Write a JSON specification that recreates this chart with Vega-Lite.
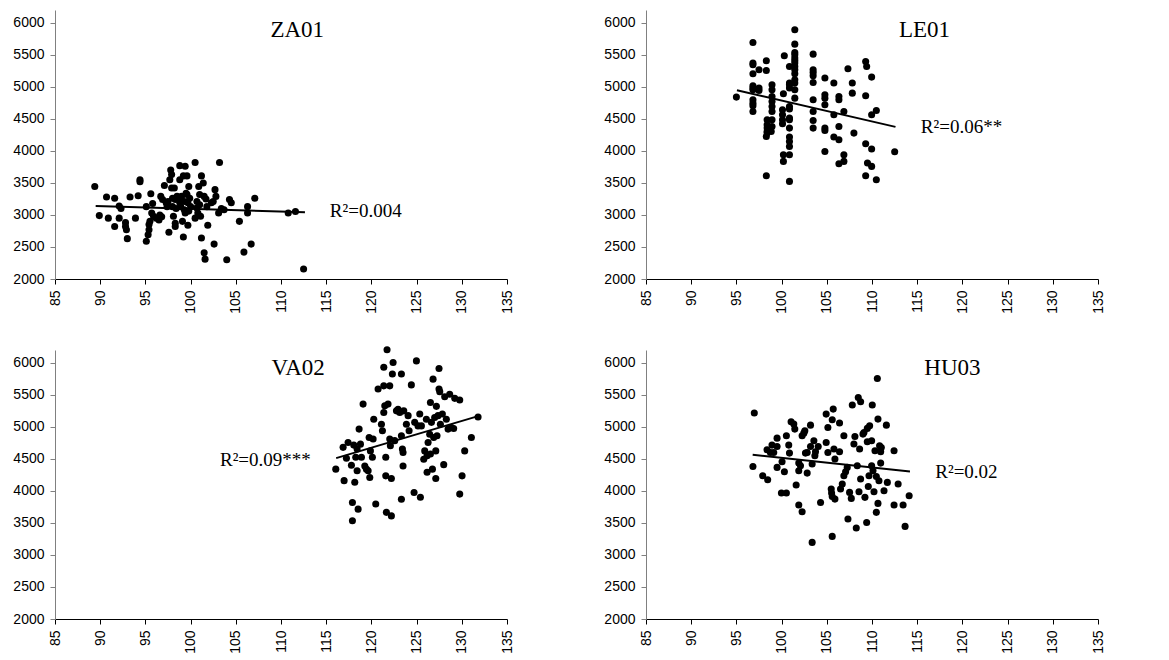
{
  "$schema": "https://vega.github.io/schema/vega-lite/v6.json",
  "background": "white",
  "padding": {"left": 12, "top": 10, "right": 5, "bottom": 5},
  "bounds": "flush",
  "columns": 2,
  "spacing": {"row": 71, "column": 139},
  "datasets": {"all": [
    {"site":"ZA01","kind":"title","x":111.8,"y":5890,"label":"ZA01"},
    {"site":"LE01","kind":"title","x":115.8,"y":5890,"label":"LE01"},
    {"site":"VA02","kind":"title","x":111.9,"y":5913,"label":"VA02"},
    {"site":"HU03","kind":"title","x":118.9,"y":5913,"label":"HU03"},
    {"site":"ZA01","kind":"r2","x":115.4,"y":2964,"label":"R²=0.004"},
    {"site":"LE01","kind":"r2","x":115.4,"y":4277,"label":"R²=0.06**"},
    {"site":"VA02","kind":"r2","x":103.25,"y":4392,"label":"R²=0.09***"},
    {"site":"HU03","kind":"r2","x":117.0,"y":4195,"label":"R²=0.02"},
    {"site":"ZA01","kind":"fit","x":89.5,"y":3141},
    {"site":"ZA01","kind":"fit","x":112.65,"y":3042},
    {"site":"LE01","kind":"fit","x":95.06,"y":4948},
    {"site":"LE01","kind":"fit","x":112.6,"y":4375},
    {"site":"VA02","kind":"fit","x":116.1,"y":4512},
    {"site":"VA02","kind":"fit","x":131.9,"y":5172},
    {"site":"HU03","kind":"fit","x":96.8,"y":4563},
    {"site":"HU03","kind":"fit","x":114.2,"y":4304},

    {"site":"ZA01","kind":"pt","x":89.4,"y":3445},{"site":"ZA01","kind":"pt","x":89.9,"y":2990},{"site":"ZA01","kind":"pt","x":90.7,"y":3280},{"site":"ZA01","kind":"pt","x":90.9,"y":2950},
    {"site":"ZA01","kind":"pt","x":91.6,"y":3260},{"site":"ZA01","kind":"pt","x":91.6,"y":2820},{"site":"ZA01","kind":"pt","x":92.1,"y":3140},{"site":"ZA01","kind":"pt","x":92.1,"y":2950},
    {"site":"ZA01","kind":"pt","x":92.3,"y":3100},{"site":"ZA01","kind":"pt","x":92.8,"y":2880},{"site":"ZA01","kind":"pt","x":92.8,"y":2820},{"site":"ZA01","kind":"pt","x":92.9,"y":2770},
    {"site":"ZA01","kind":"pt","x":93.0,"y":2630},{"site":"ZA01","kind":"pt","x":93.3,"y":3280},{"site":"ZA01","kind":"pt","x":93.9,"y":2950},{"site":"ZA01","kind":"pt","x":94.2,"y":3300},
    {"site":"ZA01","kind":"pt","x":94.4,"y":3550},{"site":"ZA01","kind":"pt","x":94.4,"y":3520},{"site":"ZA01","kind":"pt","x":95.1,"y":3130},{"site":"ZA01","kind":"pt","x":95.1,"y":2590},
    {"site":"ZA01","kind":"pt","x":95.3,"y":2690},{"site":"ZA01","kind":"pt","x":95.4,"y":2770},{"site":"ZA01","kind":"pt","x":95.4,"y":2850},{"site":"ZA01","kind":"pt","x":95.5,"y":2900},
    {"site":"ZA01","kind":"pt","x":95.6,"y":3330},{"site":"ZA01","kind":"pt","x":95.7,"y":3030},{"site":"ZA01","kind":"pt","x":95.8,"y":3180},{"site":"ZA01","kind":"pt","x":95.9,"y":2980},
    {"site":"ZA01","kind":"pt","x":96.2,"y":2950},{"site":"ZA01","kind":"pt","x":96.5,"y":2920},{"site":"ZA01","kind":"pt","x":96.6,"y":3000},{"site":"ZA01","kind":"pt","x":96.7,"y":3290},
    {"site":"ZA01","kind":"pt","x":96.8,"y":2970},{"site":"ZA01","kind":"pt","x":96.9,"y":3240},{"site":"ZA01","kind":"pt","x":97.1,"y":3460},{"site":"ZA01","kind":"pt","x":97.3,"y":3190},
    {"site":"ZA01","kind":"pt","x":97.4,"y":3130},{"site":"ZA01","kind":"pt","x":97.5,"y":3210},{"site":"ZA01","kind":"pt","x":97.6,"y":2730},{"site":"ZA01","kind":"pt","x":97.7,"y":3550},
    {"site":"ZA01","kind":"pt","x":97.8,"y":3700},{"site":"ZA01","kind":"pt","x":97.9,"y":3630},{"site":"ZA01","kind":"pt","x":97.9,"y":3420},{"site":"ZA01","kind":"pt","x":98.0,"y":3260},
    {"site":"ZA01","kind":"pt","x":98.0,"y":3130},{"site":"ZA01","kind":"pt","x":98.1,"y":2980},{"site":"ZA01","kind":"pt","x":98.2,"y":3420},{"site":"ZA01","kind":"pt","x":98.3,"y":2820},
    {"site":"ZA01","kind":"pt","x":98.3,"y":2870},{"site":"ZA01","kind":"pt","x":98.4,"y":3100},{"site":"ZA01","kind":"pt","x":98.5,"y":3290},{"site":"ZA01","kind":"pt","x":98.7,"y":3240},
    {"site":"ZA01","kind":"pt","x":98.8,"y":3770},{"site":"ZA01","kind":"pt","x":98.8,"y":3550},{"site":"ZA01","kind":"pt","x":98.9,"y":3130},{"site":"ZA01","kind":"pt","x":99.0,"y":3290},
    {"site":"ZA01","kind":"pt","x":99.1,"y":2900},{"site":"ZA01","kind":"pt","x":99.2,"y":2655},{"site":"ZA01","kind":"pt","x":99.2,"y":3610},{"site":"ZA01","kind":"pt","x":99.3,"y":3210},
    {"site":"ZA01","kind":"pt","x":99.4,"y":3760},{"site":"ZA01","kind":"pt","x":99.4,"y":3030},{"site":"ZA01","kind":"pt","x":99.5,"y":3340},{"site":"ZA01","kind":"pt","x":99.6,"y":3610},
    {"site":"ZA01","kind":"pt","x":99.6,"y":3320},{"site":"ZA01","kind":"pt","x":99.7,"y":2840},{"site":"ZA01","kind":"pt","x":99.7,"y":3190},{"site":"ZA01","kind":"pt","x":99.8,"y":3445},
    {"site":"ZA01","kind":"pt","x":99.9,"y":3260},{"site":"ZA01","kind":"pt","x":100.0,"y":3130},{"site":"ZA01","kind":"pt","x":100.5,"y":3820},{"site":"ZA01","kind":"pt","x":100.5,"y":2950},
    {"site":"ZA01","kind":"pt","x":100.7,"y":3210},{"site":"ZA01","kind":"pt","x":100.8,"y":3030},{"site":"ZA01","kind":"pt","x":100.9,"y":3445},{"site":"ZA01","kind":"pt","x":101.0,"y":3320},
    {"site":"ZA01","kind":"pt","x":101.1,"y":2980},{"site":"ZA01","kind":"pt","x":101.2,"y":3610},{"site":"ZA01","kind":"pt","x":101.2,"y":2640},{"site":"ZA01","kind":"pt","x":101.4,"y":3500},
    {"site":"ZA01","kind":"pt","x":101.5,"y":3290},{"site":"ZA01","kind":"pt","x":101.5,"y":2410},{"site":"ZA01","kind":"pt","x":101.6,"y":2310},{"site":"ZA01","kind":"pt","x":101.7,"y":3250},
    {"site":"ZA01","kind":"pt","x":101.8,"y":3130},{"site":"ZA01","kind":"pt","x":101.9,"y":2840},{"site":"ZA01","kind":"pt","x":102.3,"y":3190},{"site":"ZA01","kind":"pt","x":102.5,"y":3210},
    {"site":"ZA01","kind":"pt","x":102.6,"y":2545},{"site":"ZA01","kind":"pt","x":102.7,"y":3395},{"site":"ZA01","kind":"pt","x":102.8,"y":3290},{"site":"ZA01","kind":"pt","x":103.1,"y":3030},
    {"site":"ZA01","kind":"pt","x":103.2,"y":3820},{"site":"ZA01","kind":"pt","x":103.4,"y":3100},{"site":"ZA01","kind":"pt","x":103.7,"y":3080},{"site":"ZA01","kind":"pt","x":104.0,"y":2300},
    {"site":"ZA01","kind":"pt","x":104.3,"y":3240},{"site":"ZA01","kind":"pt","x":104.5,"y":3190},{"site":"ZA01","kind":"pt","x":105.4,"y":2900},{"site":"ZA01","kind":"pt","x":106.3,"y":3130},
    {"site":"ZA01","kind":"pt","x":106.3,"y":3030},{"site":"ZA01","kind":"pt","x":105.9,"y":2420},{"site":"ZA01","kind":"pt","x":106.7,"y":2545},{"site":"ZA01","kind":"pt","x":107.1,"y":3260},
    {"site":"ZA01","kind":"pt","x":110.8,"y":3030},{"site":"ZA01","kind":"pt","x":111.6,"y":3055},{"site":"ZA01","kind":"pt","x":112.5,"y":2155},{"site":"ZA01","kind":"pt","x":98.3,"y":3240},
    {"site":"ZA01","kind":"pt","x":99.3,"y":3080},{"site":"ZA01","kind":"pt","x":100.7,"y":3110},{"site":"ZA01","kind":"pt","x":99.8,"y":3060},{"site":"ZA01","kind":"pt","x":98.8,"y":3190},
    {"site":"ZA01","kind":"pt","x":101.0,"y":3160},

    {"site":"LE01","kind":"pt","x":95.0,"y":4840},
    {"site":"LE01","kind":"pt","x":96.83,"y":5693},{"site":"LE01","kind":"pt","x":96.83,"y":5371},{"site":"LE01","kind":"pt","x":96.83,"y":5345},{"site":"LE01","kind":"pt","x":96.83,"y":5204},
    {"site":"LE01","kind":"pt","x":96.83,"y":5017},{"site":"LE01","kind":"pt","x":96.83,"y":4981},{"site":"LE01","kind":"pt","x":96.83,"y":4955},{"site":"LE01","kind":"pt","x":96.83,"y":4798},
    {"site":"LE01","kind":"pt","x":96.83,"y":4746},{"site":"LE01","kind":"pt","x":96.83,"y":4705},{"site":"LE01","kind":"pt","x":96.83,"y":4616},
    {"site":"LE01","kind":"pt","x":97.5,"y":4981},{"site":"LE01","kind":"pt","x":97.5,"y":5267},{"site":"LE01","kind":"pt","x":97.5,"y":4944},
    {"site":"LE01","kind":"pt","x":98.31,"y":5407},{"site":"LE01","kind":"pt","x":98.31,"y":5256},{"site":"LE01","kind":"pt","x":98.31,"y":4226},{"site":"LE01","kind":"pt","x":98.31,"y":3612},
    {"site":"LE01","kind":"pt","x":98.4,"y":4486},{"site":"LE01","kind":"pt","x":98.4,"y":4408},{"site":"LE01","kind":"pt","x":98.4,"y":4356},{"site":"LE01","kind":"pt","x":98.4,"y":4304},{"site":"LE01","kind":"pt","x":98.4,"y":4278},
    {"site":"LE01","kind":"pt","x":98.94,"y":5033},{"site":"LE01","kind":"pt","x":98.94,"y":4955},{"site":"LE01","kind":"pt","x":98.94,"y":4850},{"site":"LE01","kind":"pt","x":98.94,"y":4772},
    {"site":"LE01","kind":"pt","x":98.94,"y":4694},{"site":"LE01","kind":"pt","x":98.94,"y":4616},{"site":"LE01","kind":"pt","x":98.94,"y":4486},{"site":"LE01","kind":"pt","x":98.94,"y":4382},
    {"site":"LE01","kind":"pt","x":98.85,"y":4304},
    {"site":"LE01","kind":"pt","x":100.3,"y":5485},{"site":"LE01","kind":"pt","x":100.2,"y":4892},
    {"site":"LE01","kind":"pt","x":100.1,"y":4642},{"site":"LE01","kind":"pt","x":100.1,"y":4564},{"site":"LE01","kind":"pt","x":100.1,"y":4486},{"site":"LE01","kind":"pt","x":100.1,"y":4424},
    {"site":"LE01","kind":"pt","x":100.2,"y":3940},{"site":"LE01","kind":"pt","x":100.2,"y":3836},
    {"site":"LE01","kind":"pt","x":100.87,"y":5319},{"site":"LE01","kind":"pt","x":100.87,"y":5059},{"site":"LE01","kind":"pt","x":100.87,"y":5033},{"site":"LE01","kind":"pt","x":100.87,"y":4981},
    {"site":"LE01","kind":"pt","x":100.87,"y":4694},{"site":"LE01","kind":"pt","x":100.87,"y":4653},{"site":"LE01","kind":"pt","x":100.87,"y":4512},{"site":"LE01","kind":"pt","x":100.87,"y":4486},
    {"site":"LE01","kind":"pt","x":100.87,"y":4356},{"site":"LE01","kind":"pt","x":100.87,"y":4216},{"site":"LE01","kind":"pt","x":100.87,"y":4148},{"site":"LE01","kind":"pt","x":100.87,"y":4070},
    {"site":"LE01","kind":"pt","x":100.87,"y":3940},{"site":"LE01","kind":"pt","x":100.87,"y":3524},
    {"site":"LE01","kind":"pt","x":101.46,"y":5891},{"site":"LE01","kind":"pt","x":101.46,"y":5667},{"site":"LE01","kind":"pt","x":101.46,"y":5537},{"site":"LE01","kind":"pt","x":101.46,"y":5501},
    {"site":"LE01","kind":"pt","x":101.46,"y":5449},{"site":"LE01","kind":"pt","x":101.46,"y":5412},{"site":"LE01","kind":"pt","x":101.46,"y":5371},{"site":"LE01","kind":"pt","x":101.46,"y":5319},
    {"site":"LE01","kind":"pt","x":101.46,"y":5267},{"site":"LE01","kind":"pt","x":101.46,"y":5204},{"site":"LE01","kind":"pt","x":101.46,"y":5111},{"site":"LE01","kind":"pt","x":101.46,"y":5059},
    {"site":"LE01","kind":"pt","x":101.46,"y":4955},{"site":"LE01","kind":"pt","x":101.46,"y":4824},
    {"site":"LE01","kind":"pt","x":103.49,"y":5511},{"site":"LE01","kind":"pt","x":103.49,"y":5267},{"site":"LE01","kind":"pt","x":103.49,"y":5225},{"site":"LE01","kind":"pt","x":103.49,"y":5173},
    {"site":"LE01","kind":"pt","x":103.49,"y":5069},{"site":"LE01","kind":"pt","x":103.49,"y":4798},{"site":"LE01","kind":"pt","x":103.49,"y":4616},{"site":"LE01","kind":"pt","x":103.49,"y":4476},
    {"site":"LE01","kind":"pt","x":103.49,"y":4356},
    {"site":"LE01","kind":"pt","x":104.79,"y":5137},{"site":"LE01","kind":"pt","x":104.79,"y":4876},{"site":"LE01","kind":"pt","x":104.79,"y":4824},{"site":"LE01","kind":"pt","x":104.79,"y":4720},
    {"site":"LE01","kind":"pt","x":104.79,"y":4356},{"site":"LE01","kind":"pt","x":104.79,"y":4320},{"site":"LE01","kind":"pt","x":104.79,"y":3992},
    {"site":"LE01","kind":"pt","x":105.78,"y":5059},{"site":"LE01","kind":"pt","x":105.78,"y":4564},{"site":"LE01","kind":"pt","x":105.78,"y":4216},
    {"site":"LE01","kind":"pt","x":106.34,"y":4850},{"site":"LE01","kind":"pt","x":106.34,"y":4798},{"site":"LE01","kind":"pt","x":106.34,"y":4382},{"site":"LE01","kind":"pt","x":106.34,"y":4174},{"site":"LE01","kind":"pt","x":106.34,"y":3800},
    {"site":"LE01","kind":"pt","x":106.89,"y":4616},{"site":"LE01","kind":"pt","x":106.89,"y":3940},{"site":"LE01","kind":"pt","x":106.89,"y":3836},
    {"site":"LE01","kind":"pt","x":107.34,"y":5282},{"site":"LE01","kind":"pt","x":107.82,"y":5059},{"site":"LE01","kind":"pt","x":107.82,"y":4902},{"site":"LE01","kind":"pt","x":108.0,"y":4278},
    {"site":"LE01","kind":"pt","x":109.3,"y":5397},{"site":"LE01","kind":"pt","x":109.3,"y":4861},{"site":"LE01","kind":"pt","x":109.3,"y":4112},{"site":"LE01","kind":"pt","x":109.3,"y":3612},
    {"site":"LE01","kind":"pt","x":109.41,"y":5319},{"site":"LE01","kind":"pt","x":109.5,"y":3810},
    {"site":"LE01","kind":"pt","x":109.96,"y":5152},{"site":"LE01","kind":"pt","x":109.96,"y":4564},{"site":"LE01","kind":"pt","x":109.96,"y":4029},{"site":"LE01","kind":"pt","x":109.96,"y":3758},
    {"site":"LE01","kind":"pt","x":110.48,"y":4632},{"site":"LE01","kind":"pt","x":110.48,"y":3550},{"site":"LE01","kind":"pt","x":112.51,"y":3987},

    {"site":"VA02","kind":"pt","x":116.06,"y":4340},{"site":"VA02","kind":"pt","x":116.87,"y":4680},{"site":"VA02","kind":"pt","x":116.98,"y":4160},{"site":"VA02","kind":"pt","x":117.24,"y":4510},
    {"site":"VA02","kind":"pt","x":117.42,"y":4755},{"site":"VA02","kind":"pt","x":117.79,"y":4400},{"site":"VA02","kind":"pt","x":117.9,"y":3535},{"site":"VA02","kind":"pt","x":117.9,"y":3820},
    {"site":"VA02","kind":"pt","x":118.05,"y":4715},{"site":"VA02","kind":"pt","x":118.16,"y":4135},{"site":"VA02","kind":"pt","x":118.27,"y":4525},{"site":"VA02","kind":"pt","x":118.42,"y":4655},
    {"site":"VA02","kind":"pt","x":118.53,"y":3715},{"site":"VA02","kind":"pt","x":118.42,"y":4315},{"site":"VA02","kind":"pt","x":118.64,"y":4965},{"site":"VA02","kind":"pt","x":118.79,"y":4730},
    {"site":"VA02","kind":"pt","x":118.9,"y":4525},{"site":"VA02","kind":"pt","x":119.08,"y":5355},{"site":"VA02","kind":"pt","x":119.27,"y":4390},{"site":"VA02","kind":"pt","x":119.45,"y":4340},
    {"site":"VA02","kind":"pt","x":119.64,"y":4315},{"site":"VA02","kind":"pt","x":119.75,"y":4835},{"site":"VA02","kind":"pt","x":119.82,"y":4210},{"site":"VA02","kind":"pt","x":119.89,"y":4625},
    {"site":"VA02","kind":"pt","x":120.11,"y":4525},{"site":"VA02","kind":"pt","x":120.19,"y":4810},{"site":"VA02","kind":"pt","x":120.26,"y":5120},{"site":"VA02","kind":"pt","x":120.48,"y":3795},
    {"site":"VA02","kind":"pt","x":120.74,"y":5590},{"site":"VA02","kind":"pt","x":121.11,"y":5040},{"site":"VA02","kind":"pt","x":121.22,"y":4940},{"site":"VA02","kind":"pt","x":121.37,"y":5930},
    {"site":"VA02","kind":"pt","x":121.37,"y":5640},{"site":"VA02","kind":"pt","x":121.37,"y":5225},{"site":"VA02","kind":"pt","x":121.48,"y":5330},{"site":"VA02","kind":"pt","x":121.59,"y":4525},
    {"site":"VA02","kind":"pt","x":121.59,"y":4235},{"site":"VA02","kind":"pt","x":121.66,"y":3665},{"site":"VA02","kind":"pt","x":121.73,"y":6205},{"site":"VA02","kind":"pt","x":121.84,"y":5355},
    {"site":"VA02","kind":"pt","x":122.03,"y":5640},{"site":"VA02","kind":"pt","x":122.03,"y":4810},{"site":"VA02","kind":"pt","x":122.1,"y":4705},{"site":"VA02","kind":"pt","x":122.21,"y":3610},
    {"site":"VA02","kind":"pt","x":122.21,"y":4195},{"site":"VA02","kind":"pt","x":122.32,"y":5825},{"site":"VA02","kind":"pt","x":122.4,"y":6005},{"site":"VA02","kind":"pt","x":122.58,"y":4785},
    {"site":"VA02","kind":"pt","x":122.77,"y":5250},{"site":"VA02","kind":"pt","x":122.95,"y":5275},{"site":"VA02","kind":"pt","x":123.14,"y":5225},{"site":"VA02","kind":"pt","x":123.32,"y":5825},
    {"site":"VA02","kind":"pt","x":123.32,"y":4860},{"site":"VA02","kind":"pt","x":123.32,"y":3870},{"site":"VA02","kind":"pt","x":123.43,"y":4655},{"site":"VA02","kind":"pt","x":123.5,"y":4600},
    {"site":"VA02","kind":"pt","x":123.5,"y":4390},{"site":"VA02","kind":"pt","x":123.58,"y":5250},{"site":"VA02","kind":"pt","x":123.87,"y":5040},{"site":"VA02","kind":"pt","x":124.06,"y":5175},
    {"site":"VA02","kind":"pt","x":124.17,"y":4940},{"site":"VA02","kind":"pt","x":124.42,"y":5655},{"site":"VA02","kind":"pt","x":124.72,"y":3975},{"site":"VA02","kind":"pt","x":124.79,"y":5070},
    {"site":"VA02","kind":"pt","x":124.98,"y":6030},{"site":"VA02","kind":"pt","x":125.16,"y":5015},{"site":"VA02","kind":"pt","x":125.35,"y":5200},{"site":"VA02","kind":"pt","x":125.42,"y":3900},
    {"site":"VA02","kind":"pt","x":125.53,"y":5015},{"site":"VA02","kind":"pt","x":125.79,"y":4495},{"site":"VA02","kind":"pt","x":125.9,"y":4625},{"site":"VA02","kind":"pt","x":126.08,"y":5120},
    {"site":"VA02","kind":"pt","x":126.16,"y":4550},{"site":"VA02","kind":"pt","x":126.16,"y":4290},{"site":"VA02","kind":"pt","x":126.27,"y":4755},{"site":"VA02","kind":"pt","x":126.45,"y":4885},
    {"site":"VA02","kind":"pt","x":126.53,"y":5380},{"site":"VA02","kind":"pt","x":126.53,"y":4575},{"site":"VA02","kind":"pt","x":126.64,"y":5070},{"site":"VA02","kind":"pt","x":126.75,"y":4340},
    {"site":"VA02","kind":"pt","x":126.82,"y":5745},{"site":"VA02","kind":"pt","x":126.89,"y":4835},{"site":"VA02","kind":"pt","x":127.0,"y":5145},{"site":"VA02","kind":"pt","x":127.12,"y":4625},
    {"site":"VA02","kind":"pt","x":127.12,"y":4195},{"site":"VA02","kind":"pt","x":127.19,"y":5320},{"site":"VA02","kind":"pt","x":127.26,"y":4860},{"site":"VA02","kind":"pt","x":127.37,"y":5175},
    {"site":"VA02","kind":"pt","x":127.48,"y":5910},{"site":"VA02","kind":"pt","x":127.48,"y":5590},{"site":"VA02","kind":"pt","x":127.56,"y":5550},{"site":"VA02","kind":"pt","x":127.63,"y":5040},
    {"site":"VA02","kind":"pt","x":127.85,"y":5200},{"site":"VA02","kind":"pt","x":128.0,"y":4410},{"site":"VA02","kind":"pt","x":128.11,"y":5470},{"site":"VA02","kind":"pt","x":128.29,"y":5120},
    {"site":"VA02","kind":"pt","x":128.48,"y":4965},{"site":"VA02","kind":"pt","x":128.66,"y":5510},{"site":"VA02","kind":"pt","x":128.85,"y":4990},{"site":"VA02","kind":"pt","x":129.1,"y":4975},
    {"site":"VA02","kind":"pt","x":129.22,"y":5445},{"site":"VA02","kind":"pt","x":129.77,"y":5420},{"site":"VA02","kind":"pt","x":129.77,"y":3950},{"site":"VA02","kind":"pt","x":130.03,"y":4235},
    {"site":"VA02","kind":"pt","x":130.32,"y":4625},{"site":"VA02","kind":"pt","x":131.06,"y":4835},{"site":"VA02","kind":"pt","x":131.8,"y":5155},

    {"site":"HU03","kind":"pt","x":96.83,"y":4382},{"site":"HU03","kind":"pt","x":96.98,"y":5215},{"site":"HU03","kind":"pt","x":97.91,"y":4237},{"site":"HU03","kind":"pt","x":98.39,"y":4642},
    {"site":"HU03","kind":"pt","x":98.46,"y":4174},{"site":"HU03","kind":"pt","x":98.76,"y":4601},{"site":"HU03","kind":"pt","x":98.94,"y":4715},{"site":"HU03","kind":"pt","x":99.13,"y":4601},
    {"site":"HU03","kind":"pt","x":99.5,"y":4694},{"site":"HU03","kind":"pt","x":99.5,"y":4824},{"site":"HU03","kind":"pt","x":99.5,"y":4367},{"site":"HU03","kind":"pt","x":99.98,"y":3966},
    {"site":"HU03","kind":"pt","x":100.05,"y":4455},{"site":"HU03","kind":"pt","x":100.31,"y":4299},{"site":"HU03","kind":"pt","x":100.53,"y":3966},{"site":"HU03","kind":"pt","x":100.53,"y":4860},
    {"site":"HU03","kind":"pt","x":100.79,"y":4715},{"site":"HU03","kind":"pt","x":100.87,"y":4590},{"site":"HU03","kind":"pt","x":101.05,"y":5079},{"site":"HU03","kind":"pt","x":101.35,"y":5043},
    {"site":"HU03","kind":"pt","x":101.46,"y":4965},{"site":"HU03","kind":"pt","x":101.61,"y":4091},{"site":"HU03","kind":"pt","x":101.9,"y":4434},{"site":"HU03","kind":"pt","x":101.9,"y":4315},
    {"site":"HU03","kind":"pt","x":101.9,"y":3779},{"site":"HU03","kind":"pt","x":102.09,"y":4393},{"site":"HU03","kind":"pt","x":102.27,"y":3675},{"site":"HU03","kind":"pt","x":102.27,"y":4860},
    {"site":"HU03","kind":"pt","x":102.46,"y":4902},{"site":"HU03","kind":"pt","x":102.57,"y":4939},{"site":"HU03","kind":"pt","x":102.64,"y":4590},{"site":"HU03","kind":"pt","x":102.83,"y":4601},
    {"site":"HU03","kind":"pt","x":102.83,"y":4278},{"site":"HU03","kind":"pt","x":103.2,"y":5027},{"site":"HU03","kind":"pt","x":103.2,"y":4694},{"site":"HU03","kind":"pt","x":103.38,"y":4419},
    {"site":"HU03","kind":"pt","x":103.38,"y":3196},{"site":"HU03","kind":"pt","x":103.57,"y":4783},{"site":"HU03","kind":"pt","x":103.68,"y":4549},{"site":"HU03","kind":"pt","x":103.75,"y":4611},
    {"site":"HU03","kind":"pt","x":104.05,"y":4694},{"site":"HU03","kind":"pt","x":104.31,"y":3820},{"site":"HU03","kind":"pt","x":104.93,"y":5199},{"site":"HU03","kind":"pt","x":104.93,"y":4757},
    {"site":"HU03","kind":"pt","x":105.12,"y":4991},{"site":"HU03","kind":"pt","x":105.12,"y":4601},{"site":"HU03","kind":"pt","x":105.49,"y":4029},{"site":"HU03","kind":"pt","x":105.53,"y":3966},
    {"site":"HU03","kind":"pt","x":105.6,"y":3914},{"site":"HU03","kind":"pt","x":105.6,"y":5111},{"site":"HU03","kind":"pt","x":105.6,"y":3290},{"site":"HU03","kind":"pt","x":105.71,"y":5277},
    {"site":"HU03","kind":"pt","x":105.79,"y":4653},{"site":"HU03","kind":"pt","x":105.9,"y":4497},{"site":"HU03","kind":"pt","x":105.9,"y":3872},{"site":"HU03","kind":"pt","x":106.41,"y":5059},
    {"site":"HU03","kind":"pt","x":106.41,"y":4611},{"site":"HU03","kind":"pt","x":106.52,"y":4029},{"site":"HU03","kind":"pt","x":106.71,"y":4107},{"site":"HU03","kind":"pt","x":106.89,"y":4860},
    {"site":"HU03","kind":"pt","x":106.89,"y":4237},{"site":"HU03","kind":"pt","x":107.08,"y":4299},{"site":"HU03","kind":"pt","x":107.26,"y":4367},{"site":"HU03","kind":"pt","x":107.34,"y":3560},
    {"site":"HU03","kind":"pt","x":107.52,"y":3977},{"site":"HU03","kind":"pt","x":107.71,"y":3883},{"site":"HU03","kind":"pt","x":107.82,"y":5340},{"site":"HU03","kind":"pt","x":108.0,"y":4731},
    {"site":"HU03","kind":"pt","x":108.11,"y":4850},{"site":"HU03","kind":"pt","x":108.26,"y":3420},{"site":"HU03","kind":"pt","x":108.37,"y":4393},{"site":"HU03","kind":"pt","x":108.48,"y":5459},
    {"site":"HU03","kind":"pt","x":108.56,"y":3988},{"site":"HU03","kind":"pt","x":108.63,"y":4653},{"site":"HU03","kind":"pt","x":108.74,"y":4185},{"site":"HU03","kind":"pt","x":108.74,"y":5392},
    {"site":"HU03","kind":"pt","x":109.0,"y":4887},{"site":"HU03","kind":"pt","x":109.11,"y":4913},{"site":"HU03","kind":"pt","x":109.22,"y":3899},{"site":"HU03","kind":"pt","x":109.41,"y":3508},
    {"site":"HU03","kind":"pt","x":109.48,"y":4976},{"site":"HU03","kind":"pt","x":109.48,"y":4767},{"site":"HU03","kind":"pt","x":109.59,"y":4070},{"site":"HU03","kind":"pt","x":109.67,"y":4237},
    {"site":"HU03","kind":"pt","x":109.74,"y":5017},{"site":"HU03","kind":"pt","x":109.96,"y":4783},{"site":"HU03","kind":"pt","x":109.96,"y":4393},{"site":"HU03","kind":"pt","x":110.03,"y":5340},
    {"site":"HU03","kind":"pt","x":110.11,"y":4315},{"site":"HU03","kind":"pt","x":110.22,"y":3988},{"site":"HU03","kind":"pt","x":110.33,"y":4627},{"site":"HU03","kind":"pt","x":110.48,"y":3665},
    {"site":"HU03","kind":"pt","x":110.48,"y":4226},{"site":"HU03","kind":"pt","x":110.59,"y":5756},{"site":"HU03","kind":"pt","x":110.66,"y":5121},{"site":"HU03","kind":"pt","x":110.66,"y":3805},
    {"site":"HU03","kind":"pt","x":110.77,"y":4159},{"site":"HU03","kind":"pt","x":110.84,"y":4705},{"site":"HU03","kind":"pt","x":110.96,"y":4611},{"site":"HU03","kind":"pt","x":110.96,"y":4434},
    {"site":"HU03","kind":"pt","x":111.03,"y":4679},{"site":"HU03","kind":"pt","x":111.33,"y":4003},{"site":"HU03","kind":"pt","x":111.59,"y":5027},{"site":"HU03","kind":"pt","x":111.7,"y":4133},
    {"site":"HU03","kind":"pt","x":112.44,"y":4627},{"site":"HU03","kind":"pt","x":112.44,"y":3779},{"site":"HU03","kind":"pt","x":112.89,"y":4107},{"site":"HU03","kind":"pt","x":113.44,"y":3779},
    {"site":"HU03","kind":"pt","x":113.66,"y":3446},{"site":"HU03","kind":"pt","x":114.11,"y":3924}
  ]},
  "concat": [
    {"data": {"name": "all"}, "transform": [{"filter": "datum.site === 'ZA01'"}], "width": 452, "height": 269,
     "encoding": {
       "x": {"field": "x", "type": "quantitative", "title": null, "scale": {"domain": [85, 135], "nice": false, "zero": false},
             "axis": {"values": [85, 90, 95, 100, 105, 110, 115, 120, 125, 130, 135], "labelAngle": -90, "domainColor": "black", "tickColor": "black"}},
       "y": {"field": "y", "type": "quantitative", "title": null, "scale": {"domain": [2000, 6200], "nice": false, "zero": false},
             "axis": {"values": [2000, 2500, 3000, 3500, 4000, 4500, 5000, 5500, 6000], "format": "d", "domainColor": "#808080", "tickColor": "#808080"}}},
     "layer": [
       {"transform": [{"filter": "datum.kind === 'pt'"}], "mark": {"type": "circle", "size": 50, "color": "black", "opacity": 1}},
       {"transform": [{"filter": "datum.kind === 'fit'"}], "mark": {"type": "line", "color": "black", "strokeWidth": 2}},
       {"transform": [{"filter": "datum.kind === 'title'"}], "mark": {"type": "text", "font": "Liberation Serif", "fontSize": 23, "align": "center", "baseline": "middle", "color": "black"}, "encoding": {"text": {"field": "label"}}},
       {"transform": [{"filter": "datum.kind === 'r2'"}], "mark": {"type": "text", "font": "Liberation Serif", "fontSize": 19, "align": "left", "baseline": "alphabetic", "color": "black"}, "encoding": {"text": {"field": "label"}}}
     ]},
    {"data": {"name": "all"}, "transform": [{"filter": "datum.site === 'LE01'"}], "width": 452, "height": 269,
     "encoding": {
       "x": {"field": "x", "type": "quantitative", "title": null, "scale": {"domain": [85, 135], "nice": false, "zero": false},
             "axis": {"values": [85, 90, 95, 100, 105, 110, 115, 120, 125, 130, 135], "labelAngle": -90, "domainColor": "black", "tickColor": "black"}},
       "y": {"field": "y", "type": "quantitative", "title": null, "scale": {"domain": [2000, 6200], "nice": false, "zero": false},
             "axis": {"values": [2000, 2500, 3000, 3500, 4000, 4500, 5000, 5500, 6000], "format": "d", "domainColor": "#808080", "tickColor": "#808080"}}},
     "layer": [
       {"transform": [{"filter": "datum.kind === 'pt'"}], "mark": {"type": "circle", "size": 50, "color": "black", "opacity": 1}},
       {"transform": [{"filter": "datum.kind === 'fit'"}], "mark": {"type": "line", "color": "black", "strokeWidth": 2}},
       {"transform": [{"filter": "datum.kind === 'title'"}], "mark": {"type": "text", "font": "Liberation Serif", "fontSize": 23, "align": "center", "baseline": "middle", "color": "black"}, "encoding": {"text": {"field": "label"}}},
       {"transform": [{"filter": "datum.kind === 'r2'"}], "mark": {"type": "text", "font": "Liberation Serif", "fontSize": 19, "align": "left", "baseline": "alphabetic", "color": "black"}, "encoding": {"text": {"field": "label"}}}
     ]},
    {"data": {"name": "all"}, "transform": [{"filter": "datum.site === 'VA02'"}], "width": 452, "height": 269,
     "encoding": {
       "x": {"field": "x", "type": "quantitative", "title": null, "scale": {"domain": [85, 135], "nice": false, "zero": false},
             "axis": {"values": [85, 90, 95, 100, 105, 110, 115, 120, 125, 130, 135], "labelAngle": -90, "domainColor": "black", "tickColor": "black"}},
       "y": {"field": "y", "type": "quantitative", "title": null, "scale": {"domain": [2000, 6200], "nice": false, "zero": false},
             "axis": {"values": [2000, 2500, 3000, 3500, 4000, 4500, 5000, 5500, 6000], "format": "d", "domainColor": "#808080", "tickColor": "#808080"}}},
     "layer": [
       {"transform": [{"filter": "datum.kind === 'pt'"}], "mark": {"type": "circle", "size": 50, "color": "black", "opacity": 1}},
       {"transform": [{"filter": "datum.kind === 'fit'"}], "mark": {"type": "line", "color": "black", "strokeWidth": 2}},
       {"transform": [{"filter": "datum.kind === 'title'"}], "mark": {"type": "text", "font": "Liberation Serif", "fontSize": 23, "align": "center", "baseline": "middle", "color": "black"}, "encoding": {"text": {"field": "label"}}},
       {"transform": [{"filter": "datum.kind === 'r2'"}], "mark": {"type": "text", "font": "Liberation Serif", "fontSize": 19, "align": "left", "baseline": "alphabetic", "color": "black"}, "encoding": {"text": {"field": "label"}}}
     ]},
    {"data": {"name": "all"}, "transform": [{"filter": "datum.site === 'HU03'"}], "width": 452, "height": 269,
     "encoding": {
       "x": {"field": "x", "type": "quantitative", "title": null, "scale": {"domain": [85, 135], "nice": false, "zero": false},
             "axis": {"values": [85, 90, 95, 100, 105, 110, 115, 120, 125, 130, 135], "labelAngle": -90, "domainColor": "black", "tickColor": "black"}},
       "y": {"field": "y", "type": "quantitative", "title": null, "scale": {"domain": [2000, 6200], "nice": false, "zero": false},
             "axis": {"values": [2000, 2500, 3000, 3500, 4000, 4500, 5000, 5500, 6000], "format": "d", "domainColor": "#808080", "tickColor": "#808080"}}},
     "layer": [
       {"transform": [{"filter": "datum.kind === 'pt'"}], "mark": {"type": "circle", "size": 50, "color": "black", "opacity": 1}},
       {"transform": [{"filter": "datum.kind === 'fit'"}], "mark": {"type": "line", "color": "black", "strokeWidth": 2}},
       {"transform": [{"filter": "datum.kind === 'title'"}], "mark": {"type": "text", "font": "Liberation Serif", "fontSize": 23, "align": "center", "baseline": "middle", "color": "black"}, "encoding": {"text": {"field": "label"}}},
       {"transform": [{"filter": "datum.kind === 'r2'"}], "mark": {"type": "text", "font": "Liberation Serif", "fontSize": 19, "align": "left", "baseline": "alphabetic", "color": "black"}, "encoding": {"text": {"field": "label"}}}
     ]}
  ],
  "config": {
    "view": {"stroke": null},
    "axis": {"grid": false, "labelFont": "Liberation Sans", "labelFontSize": 14, "labelColor": "black",
             "tickSize": 5, "labelPadding": 6, "domainWidth": 1, "tickWidth": 1, "labelOverlap": false, "labelFlush": false}
  }
}
